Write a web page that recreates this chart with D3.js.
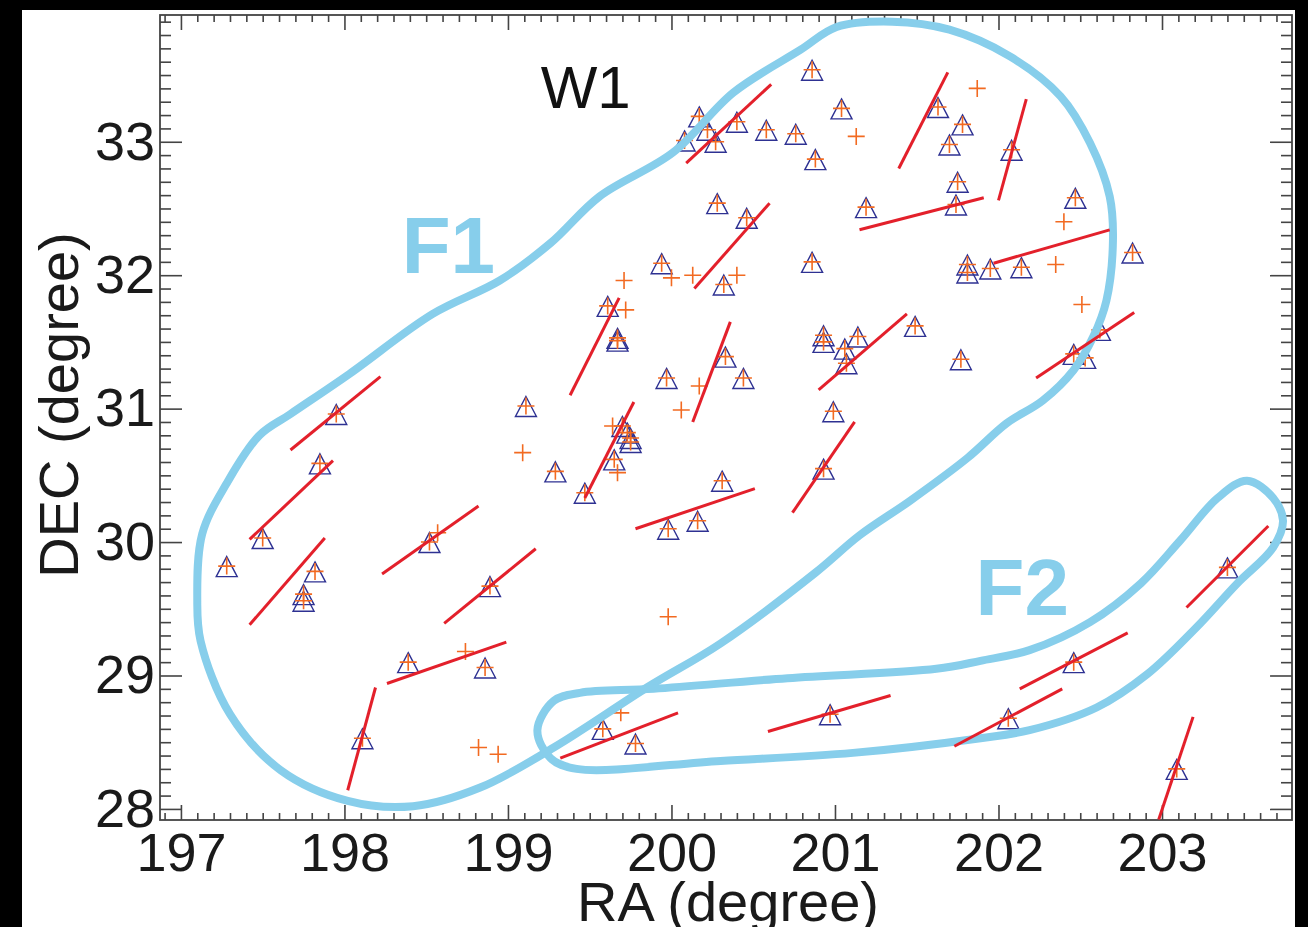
<!DOCTYPE html>
<html>
<head>
<meta charset="utf-8">
<script src="https://cdn.jsdelivr.net/npm/d3@7"></script>
<style>
  html, body { margin: 0; padding: 0; background: #000; }
  svg { display: block; }
  text { font-family: "Liberation Sans", Arial, Helvetica, sans-serif; }
</style>
</head>
<body>
<svg id="chart" width="1308" height="927"></svg>
<script>
"use strict";

// triangles: [RA, DEC]
var triangles = [
  [197.28, 29.82], [197.50, 30.03], [197.75, 29.61], [197.75, 29.56], [197.82, 29.78],
  [197.85, 30.59], [197.95, 30.96], [198.11, 28.53], [198.39, 29.10], [198.52, 30.00],
  [198.86, 29.06], [198.89, 29.67], [199.11, 31.02], [199.29, 30.53], [199.47, 30.37],
  [199.58, 28.60], [199.61, 31.77], [199.67, 31.53], [199.67, 31.51], [199.70, 30.87],
  [199.73, 30.82], [199.75, 30.78], [199.75, 30.75], [199.65, 30.62], [199.78, 28.49],
  [199.94, 32.09], [199.97, 31.23], [199.98, 30.10], [200.16, 30.16], [200.17, 33.19],
  [200.08, 33.01], [200.22, 33.09], [200.40, 33.15], [200.27, 33.00], [200.58, 33.09],
  [200.76, 33.06], [200.86, 33.54], [201.04, 33.25], [200.88, 32.87], [200.28, 32.54],
  [200.46, 32.43], [201.19, 32.51], [200.32, 31.93], [200.33, 31.39], [200.44, 31.23],
  [200.31, 30.46], [200.86, 32.10], [200.93, 31.55], [200.93, 31.50], [201.14, 31.54],
  [201.06, 31.45], [201.07, 31.34], [200.99, 30.98], [200.93, 30.55], [201.49, 31.62],
  [201.63, 33.26], [201.78, 33.13], [201.70, 32.98], [202.08, 32.94], [201.75, 32.70],
  [201.74, 32.53], [201.77, 31.37], [201.81, 32.08], [201.81, 32.02], [201.95, 32.05],
  [202.14, 32.06], [202.47, 32.58], [202.82, 32.17], [202.62, 31.59], [202.46, 31.41],
  [202.53, 31.38], [200.97, 28.71], [202.06, 28.68], [202.46, 29.10], [203.40, 29.81],
  [203.09, 28.30]
];

// plus signs without a triangle
var crosses = [
  [201.87, 33.40], [201.13, 33.04], [199.71, 31.96], [200.00, 31.98], [200.13, 32.00],
  [200.40, 32.00], [199.72, 31.74], [200.17, 31.17], [200.06, 30.99], [199.09, 30.67],
  [199.64, 30.87], [199.67, 30.52], [202.35, 32.08], [202.51, 31.78], [202.40, 32.40],
  [198.57, 30.07], [198.74, 29.18], [198.82, 28.46], [198.94, 28.41], [199.98, 29.44],
  [199.69, 28.72]
];

// red segments: [RA1, DEC1, RA2, DEC2]
var segments = [
  [197.67, 30.69, 198.22, 31.24], [197.42, 30.02, 197.93, 30.61], [197.42, 29.38, 197.88, 30.03],
  [198.02, 28.14, 198.19, 28.91], [198.23, 29.76, 198.82, 30.27], [198.61, 29.39, 199.17, 29.95],
  [198.26, 28.94, 198.99, 29.25], [199.38, 31.10, 199.68, 31.83], [199.47, 30.33, 199.77, 31.05],
  [199.32, 28.38, 200.04, 28.72], [199.78, 30.10, 200.51, 30.40], [200.13, 30.90, 200.36, 31.65],
  [200.14, 31.90, 200.60, 32.54], [200.09, 32.84, 200.61, 33.43], [200.74, 30.22, 201.12, 30.90],
  [200.90, 31.14, 201.44, 31.71], [201.39, 32.80, 201.69, 33.52], [202.00, 32.56, 202.17, 33.32],
  [201.15, 32.34, 201.91, 32.58], [201.97, 32.09, 202.68, 32.34], [202.23, 31.23, 202.83, 31.72],
  [200.59, 28.58, 201.34, 28.85], [201.73, 28.47, 202.39, 28.90], [202.13, 28.90, 202.79, 29.32],
  [203.15, 29.51, 203.65, 30.12], [202.98, 27.92, 203.19, 28.69]
];

// field outlines
var fieldF1 = [
  [197.10, 29.56], [197.13, 30.06], [197.28, 30.44], [197.48, 30.80], [197.67, 30.96],
  [198.03, 31.26], [198.54, 31.71], [198.95, 31.96], [199.26, 32.24], [199.56, 32.59],
  [200.01, 32.92], [200.38, 33.37], [200.79, 33.69], [201.01, 33.86], [201.35, 33.90],
  [201.70, 33.84], [202.07, 33.64], [202.38, 33.34], [202.56, 32.99], [202.68, 32.59],
  [202.70, 32.26], [202.66, 31.81], [202.58, 31.54], [202.46, 31.29], [202.27, 31.06],
  [202.05, 30.89], [201.81, 30.63], [201.46, 30.31], [201.15, 30.05], [200.88, 29.77],
  [200.30, 29.24], [199.85, 28.91], [199.28, 28.46], [198.83, 28.16], [198.42, 28.02],
  [198.02, 28.06], [197.61, 28.29], [197.30, 28.71], [197.12, 29.26]
];
var fieldF2 = [
  [199.28, 28.81], [199.44, 28.87], [199.89, 28.90], [200.71, 28.98], [201.62, 29.05],
  [201.89, 29.11], [202.19, 29.19], [202.56, 29.40], [202.87, 29.69], [203.11, 30.01],
  [203.34, 30.33], [203.52, 30.46], [203.68, 30.33], [203.74, 30.16], [203.68, 29.96],
  [203.46, 29.69], [203.21, 29.36], [202.91, 29.01], [202.60, 28.76], [202.19, 28.59],
  [201.89, 28.53], [201.11, 28.42], [200.30, 28.36], [199.42, 28.30], [199.26, 28.38],
  [199.18, 28.59]
];

var xTicks = [197, 198, 199, 200, 201, 202, 203];
var yTicks = [28, 29, 30, 31, 32, 33];

var svg = d3.select('#chart');

// white figure area
svg.append('rect')
    .attr('x', 22).attr('y', 10)
    .attr('width', 1273).attr('height', 917)
    .attr('fill', '#fff');

var plotL = 160, plotR = 1292, plotT = 15, plotB = 820;

var x = d3.scaleLinear()
    .domain([196.872, 203.795])
    .range([plotL, plotR]);

var y = d3.scaleLinear()
    .domain([27.917, 33.95])
    .range([plotB, plotT]);

var minorX = d3.range(1969, 2038).map(function (d) { return d / 10; })
    .filter(function (d) { return xTicks.indexOf(d) < 0; });
var minorY = d3.range(280, 340).map(function (d) { return d / 10; })
    .filter(function (d) { return yTicks.indexOf(d) < 0; });

var axisColor = '#444';

function styleAxis(g) {
    g.select('.domain').remove();
    g.selectAll('line').attr('stroke', axisColor).attr('stroke-width', 1.6);
    g.selectAll('text')
        .attr('fill', '#1a1a1a')
        .style('font-size', '54px');
}

// bottom
svg.append('g')
    .attr('transform', 'translate(0,' + plotB + ')')
    .call(d3.axisBottom(x).tickValues(minorX).tickSize(-7).tickFormat(''))
    .call(styleAxis);
svg.append('g')
    .attr('transform', 'translate(0,' + plotB + ')')
    .call(d3.axisBottom(x).tickValues(xTicks).tickSize(-15).tickPadding(13).tickFormat(d3.format('d')))
    .call(styleAxis);

// top
svg.append('g')
    .attr('transform', 'translate(0,' + plotT + ')')
    .call(d3.axisTop(x).tickValues(minorX).tickSize(-7).tickFormat(''))
    .call(styleAxis);
svg.append('g')
    .attr('transform', 'translate(0,' + plotT + ')')
    .call(d3.axisTop(x).tickValues(xTicks).tickSize(-15).tickFormat(''))
    .call(styleAxis);

// left
svg.append('g')
    .attr('transform', 'translate(' + plotL + ',0)')
    .call(d3.axisLeft(y).tickValues(minorY).tickSize(-11).tickFormat(''))
    .call(styleAxis);
svg.append('g')
    .attr('transform', 'translate(' + plotL + ',0)')
    .call(d3.axisLeft(y).tickValues(yTicks).tickSize(-22).tickPadding(5).tickFormat(d3.format('d')))
    .call(styleAxis);

// right
svg.append('g')
    .attr('transform', 'translate(' + plotR + ',0)')
    .call(d3.axisRight(y).tickValues(minorY).tickSize(-11).tickFormat(''))
    .call(styleAxis);
svg.append('g')
    .attr('transform', 'translate(' + plotR + ',0)')
    .call(d3.axisRight(y).tickValues(yTicks).tickSize(-22).tickFormat(''))
    .call(styleAxis);

// frame
svg.append('rect')
    .attr('x', plotL).attr('y', plotT)
    .attr('width', plotR - plotL).attr('height', plotB - plotT)
    .attr('fill', 'none')
    .attr('stroke', axisColor)
    .attr('stroke-width', 1.8);

var plot = svg.append('g');

// triangles
plot.selectAll('path.tri')
    .data(triangles)
    .enter()
    .append('path')
    .attr('class', 'tri')
    .attr('d', function (d) {
        var cx = x(d[0]), cy = y(d[1]);
        return 'M' + cx + ',' + (cy - 9.5) +
            'L' + (cx + 10.5) + ',' + (cy + 10.5) +
            'L' + (cx - 10.5) + ',' + (cy + 10.5) + 'Z';
    })
    .attr('fill', 'none')
    .attr('stroke', '#2e3192')
    .attr('stroke-width', 1.4);

// plus signs (on triangles and on their own)
var plusPts = triangles.concat(crosses);
plot.selectAll('path.plus')
    .data(plusPts)
    .enter()
    .append('path')
    .attr('class', 'plus')
    .attr('d', function (d) {
        var cx = x(d[0]), cy = y(d[1]);
        return 'M' + (cx - 8.5) + ',' + cy + 'H' + (cx + 8.5) +
            'M' + cx + ',' + (cy - 8.5) + 'V' + (cy + 8.5);
    })
    .attr('fill', 'none')
    .attr('stroke', '#f26a21')
    .attr('stroke-width', 1.6);

// field outlines
var outline = d3.line()
    .x(function (d) { return x(d[0]); })
    .y(function (d) { return y(d[1]); })
    .curve(d3.curveCatmullRomClosed.alpha(0.5));

plot.selectAll('path.field')
    .data([fieldF1, fieldF2])
    .enter()
    .append('path')
    .attr('class', 'field')
    .attr('d', outline)
    .attr('fill', 'none')
    .attr('stroke', '#87ceeb')
    .attr('stroke-width', 8);

// red segments
plot.selectAll('line.seg')
    .data(segments)
    .enter()
    .append('line')
    .attr('class', 'seg')
    .attr('x1', function (d) { return x(d[0]); })
    .attr('y1', function (d) { return y(d[1]); })
    .attr('x2', function (d) { return x(d[2]); })
    .attr('y2', function (d) { return y(d[3]); })
    .attr('stroke', '#e3202b')
    .attr('stroke-width', 3);

// labels
svg.append('text')
    .attr('x', x(199.20)).attr('y', y(33.25))
    .attr('fill', '#111')
    .style('font-size', '60px')
    .text('W1');

svg.append('text')
    .attr('x', x(198.35)).attr('y', y(32.02))
    .attr('fill', '#87ceeb')
    .style('font-size', '80px')
    .style('font-weight', 'bold')
    .text('F1');

svg.append('text')
    .attr('x', x(201.86)).attr('y', y(29.45))
    .attr('fill', '#87ceeb')
    .style('font-size', '80px')
    .style('font-weight', 'bold')
    .text('F2');

// axis titles
svg.append('text')
    .attr('x', (plotL + plotR) / 2 + 2)
    .attr('y', 921)
    .attr('text-anchor', 'middle')
    .attr('fill', '#1a1a1a')
    .style('font-size', '56px')
    .text('RA (degree)');

svg.append('text')
    .attr('transform', 'translate(78,405) rotate(-90)')
    .attr('text-anchor', 'middle')
    .attr('fill', '#1a1a1a')
    .style('font-size', '56px')
    .text('DEC (degree)');
</script>
</body>
</html>
